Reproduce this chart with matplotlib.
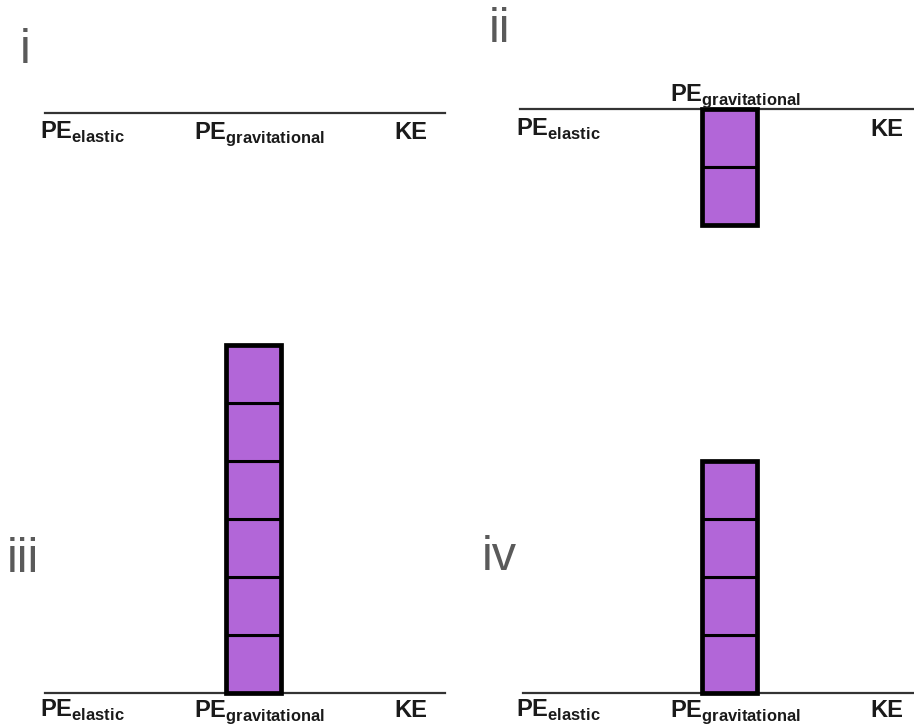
import numpy as np
import matplotlib
matplotlib.use('Agg')
import matplotlib.pyplot as plt

plt.rcParams['font.family'] = ['Liberation Sans', 'DejaVu Sans']
plt.rcParams['mathtext.fontset'] = 'custom'
plt.rcParams['mathtext.rm'] = 'Liberation Sans'
plt.rcParams['mathtext.bf'] = 'Liberation Sans:bold'

# energy bar chart data, one value per panel (units = blocks)
panel_names = ['i', 'ii', 'iii', 'iv']
categories = [r'$\mathbf{PE}_{\mathbf{elastic}}$', r'$\mathbf{PE}_{\mathbf{gravitational}}$', 'KE']
pe_elastic = [0, 0, 0, 0]
pe_grav = [0, -2, 6, 4]
ke = [0, 0, 0, 0]

W, H = 914, 726
BLOCK_PX = 58.0     # pixels per energy unit
CAT_PX = 164.0      # pixels between categories
BAR_W = 0.335
FILL = '#b266d8'

# panel layout in pixels: box (x0, x1, ytop, ybot), bar centre, baseline, line ext, numeral pos
layout = [
    dict(box=(0, 457, 0, 363), bar=253.5, base=113, line=(45, 445), num=(20, 63), above=False, dy=-26),
    dict(box=(457, 914, 0, 363), bar=729.5, base=108.5, line=(520, 914), num=(489, 42), above=True, dy=-27),
    dict(box=(0, 457, 363, 726), bar=253.5, base=693, line=(45, 445), num=(7, 572), above=False, dy=-24),
    dict(box=(457, 914, 363, 726), bar=729.5, base=693, line=(523, 914), num=(482, 570), above=False, dy=-24),
]
label_dx = [-7, 6, -7]   # pixel nudges of the labels
px = 72.0 / 100


fig = plt.figure(figsize=(W / 100, H / 100), dpi=100)

for p, name in enumerate(panel_names):
    L = layout[p]
    x0, x1, yt, yb = L['box']
    ax = fig.add_axes([x0 / W, 1 - yb / H, (x1 - x0) / W, (yb - yt) / H])
    ax.set_xlim(1 + (x0 - L['bar']) / CAT_PX, 1 + (x1 - L['bar']) / CAT_PX)
    ax.set_ylim((L['base'] - yb) / BLOCK_PX, (L['base'] - yt) / BLOCK_PX)
    ax.axis('off')

    # baseline
    ax.axhline(0, xmin=(L['line'][0] - x0) / (x1 - x0), xmax=(L['line'][1] - x0) / (x1 - x0),
               color='#333333', lw=1.6, zorder=1)

    vals = [pe_elastic[p], pe_grav[p], ke[p]]
    for c, v in enumerate(vals):
        if v == 0:
            continue
        s = np.sign(v)
        n = int(abs(v))
        ax.bar([c] * n, [s] * n, bottom=[s * k for k in range(n)], width=BAR_W,
               color=FILL, edgecolor='black', linewidth=2.2, zorder=2, clip_on=False)
        ax.bar(c, v, width=BAR_W, fill=False, edgecolor='black', linewidth=3.4, zorder=3,
               clip_on=False)

    for c, lab in enumerate(categories):
        if L['above'] and c == 1:
            dy = 8
        else:
            dy = L['dy']
        ax.annotate(lab, xy=(c, 0), xytext=(label_dx[c] * px, dy * px), textcoords='offset points',
                    ha='center', va='baseline', fontsize=17, fontweight='bold', color='#1a1a1a',
                    annotation_clip=False)

    fig.text(L['num'][0] / W, 1 - L['num'][1] / H, name, fontsize=35, color='#5a5a5a',
             ha='left', va='baseline')

fig.savefig('out.png', dpi=100)
